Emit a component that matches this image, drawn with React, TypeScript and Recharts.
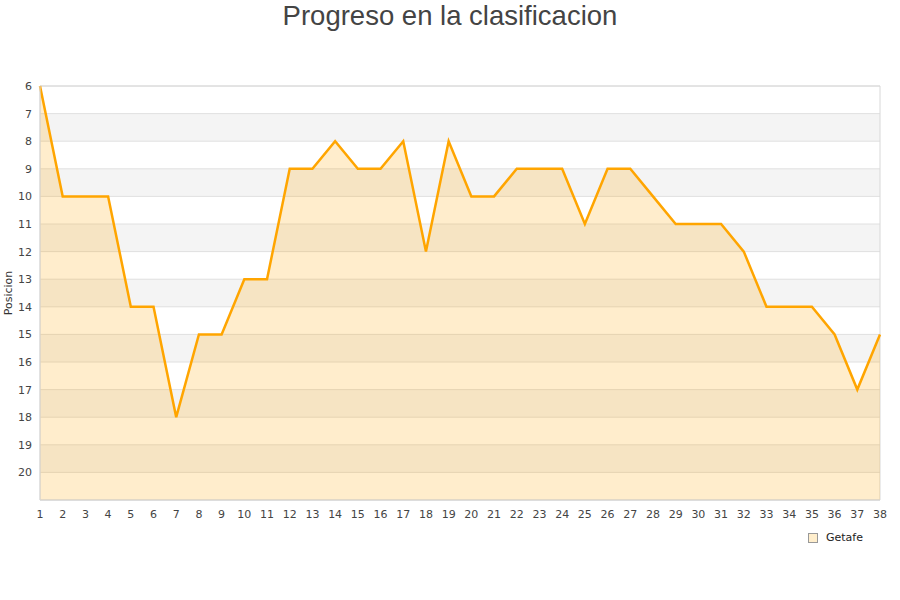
import React from 'react';
import { AreaChart, Area, XAxis, YAxis, CartesianGrid, ReferenceArea } from 'recharts';

const jornadas: number[] = [1,2,3,4,5,6,7,8,9,10,11,12,13,14,15,16,17,18,19,20,21,22,23,24,25,26,27,28,29,30,31,32,33,34,35,36,37,38];
const posiciones: number[] = [6,10,10,10,14,14,18,15,15,13,13,9,9,8,9,9,8,12,8,10,10,9,9,9,11,9,9,10,11,11,11,12,14,14,14,15,17,15];
const yTicks: number[] = [6,7,8,9,10,11,12,13,14,15,16,17,18,19,20];
const yDomain: [number, number] = [6, 21];
const seriesName = 'Getafe';
const title = 'Progreso en la clasificacion';
const yLabel = 'Posicion';

const data = jornadas.map((j, i) => ({ jornada: j, pos: posiciones[i] }));

export default function App() {
  return (
    <div style={{ position: 'absolute', left: 0, top: 0, width: 900, height: 600, fontFamily: '"DejaVu Sans", sans-serif', background: '#fff' }}>
      <div style={{ position: 'absolute', left: 0, top: 2, width: 900, textAlign: 'center', fontFamily: '"Liberation Sans", Arial, sans-serif', fontSize: 27.5, lineHeight: '27px', color: '#444' }}>
        {title}
      </div>
      <AreaChart width={900} height={600} data={data} margin={{ top: 86, right: 20, bottom: 70, left: 0 }}>
        <CartesianGrid vertical={false} stroke="#e0e0e0" horizontalFill={['#ffffff', '#f4f4f4']} fillOpacity={1} />
        <XAxis dataKey="jornada" type="category" interval={0} tickLine={false} axisLine={{ stroke: '#d8d8d8' }} tick={{ fontSize: 11, fill: '#444' }} tickMargin={4} height={30} />
        <YAxis type="number" domain={yDomain} reversed ticks={yTicks} interval={0} tickLine={false} axisLine={{ stroke: '#d8d8d8' }} tick={{ fontSize: 11, fill: '#444' }} width={40}
          label={{ value: yLabel, angle: -90, position: 'insideLeft', offset: 8, style: { textAnchor: 'middle', fontSize: 11, fill: '#333' } }} />
        <ReferenceArea x1={1} x2={38} y1={6} y2={21} fill="none" stroke="#d8d8d8" strokeWidth={1} ifOverflow="extendDomain" />
        <Area type="linear" dataKey="pos" name={seriesName} stroke="#ffa500" strokeWidth={2.5} fill="#ffa500" fillOpacity={0.2} baseValue="dataMax" dot={false} activeDot={false} isAnimationActive={false} />
      </AreaChart>
      <div style={{ position: 'absolute', left: 808, top: 531, display: 'flex', alignItems: 'center', fontSize: 11, color: '#222' }}>
        <span style={{ display: 'inline-block', width: 8, height: 8, background: '#ffeecc', border: '1px solid #999', marginRight: 8 }} />
        <span>{seriesName}</span>
      </div>
    </div>
  );
}
